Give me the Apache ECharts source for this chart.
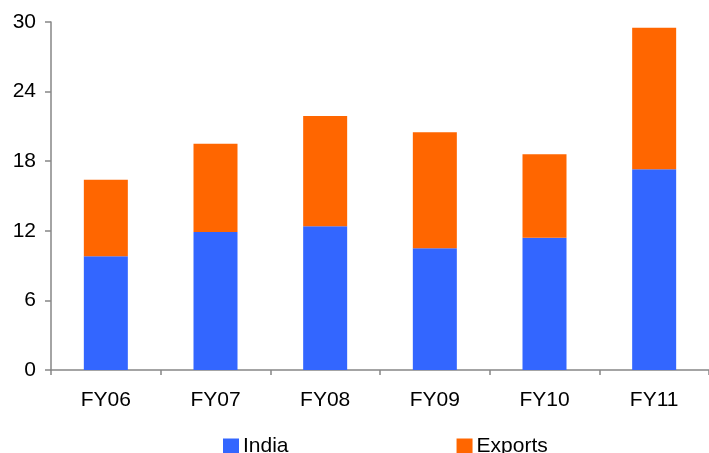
<!DOCTYPE html>
<html>
<head>
<meta charset="utf-8">
<script src="https://cdn.jsdelivr.net/npm/echarts@6/dist/echarts.min.js"></script>
<style>
  html, body { margin: 0; padding: 0; background: #ffffff; }
  #chart { width: 709px; height: 453px; }
</style>
</head>
<body>
<div id="chart"></div>
<script>
// Fiscal years on the category axis
const years = ['FY06', 'FY07', 'FY08', 'FY09', 'FY10', 'FY11'];
// Stacked components per year
const india = [9.8, 11.9, 12.4, 10.5, 11.4, 17.3];
const exportsVals = [6.6, 7.6, 9.5, 10.0, 7.2, 12.2];
// Value axis ticks
const yTicks = [0, 6, 12, 18, 24, 30];

const axisGrey = '#868686';
const fontFamily = 'Liberation Sans, Arial, sans-serif';

const chart = echarts.init(document.getElementById('chart'), null, { renderer: 'canvas' });

chart.setOption({
  animation: false,
  backgroundColor: '#ffffff',
  textStyle: { fontFamily: fontFamily },
  grid: { left: 51, right: -2, top: 22, bottom: 83, containLabel: false },
  legend: {
    data: ['India', 'Exports'],
    left: 223,
    top: 436,
    padding: 0,
    itemWidth: 16,
    itemHeight: 16,
    itemGap: 168,
    icon: 'rect',
    textStyle: { fontSize: 21, color: '#000000', fontFamily: fontFamily, padding: [0, 0, 0, -1] }
  },
  xAxis: {
    type: 'category',
    data: years,
    axisLine: { lineStyle: { color: axisGrey, width: 1.5 } },
    axisTick: { show: true, length: 5, alignWithLabel: false, lineStyle: { color: axisGrey, width: 1.5 } },
    axisLabel: { fontSize: 21, color: '#000000', margin: 20, fontFamily: fontFamily }
  },
  yAxis: {
    type: 'value',
    min: yTicks[0],
    max: yTicks[yTicks.length - 1],
    interval: yTicks[1] - yTicks[0],
    splitLine: { show: false },
    axisLine: { show: true, lineStyle: { color: axisGrey, width: 1.5 } },
    axisTick: { show: true, length: 6, lineStyle: { color: axisGrey, width: 1.5 } },
    axisLabel: { fontSize: 21, color: '#000000', margin: 15, fontFamily: fontFamily }
  },
  series: [
    {
      name: 'India',
      type: 'bar',
      stack: 'total',
      data: india,
      barWidth: 44,
      itemStyle: { color: '#3366FF' }
    },
    {
      name: 'Exports',
      type: 'bar',
      stack: 'total',
      data: exportsVals,
      barWidth: 44,
      itemStyle: { color: '#FF6600' }
    }
  ]
});
</script>
</body>
</html>
